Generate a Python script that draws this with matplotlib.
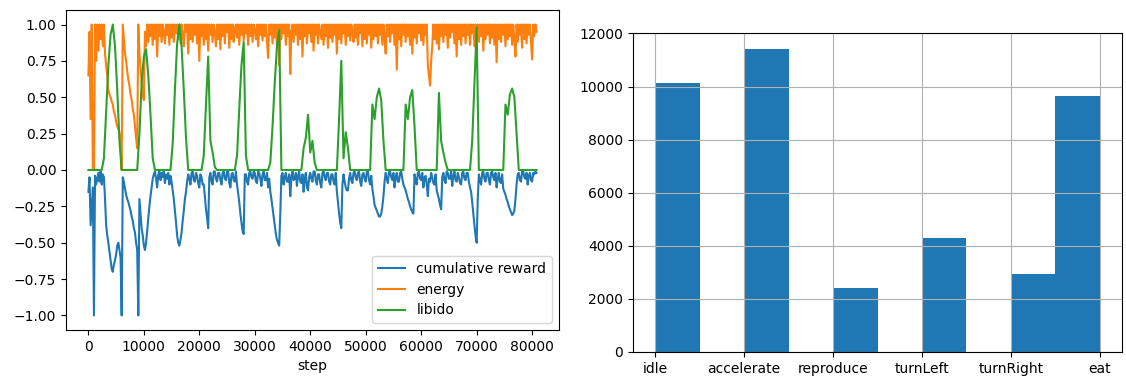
import numpy as np
import matplotlib
matplotlib.use("Agg")
import matplotlib.pyplot as plt

# reward and energy sampled every 200 steps, libido every 400 steps,
# values read off the reference
fine_steps = np.arange(0, 80801, 200)
steps = np.arange(0, 80801, 400)

reward = [
    -0.15, -0.05, -0.38, -0.25, -0.12, -1.0, -0.04, -0.1, -0.06, -0.02, -0.08, -0.01, -0.1, -0.03, -0.05, -0.2, -0.38, -0.45, -0.5, -0.56,
    -0.62, -0.68, -0.7, -0.65, -0.62, -0.58, -0.52, -0.5, -0.55, -0.6, -1.0, -0.05, -0.08, -0.13, -0.17, -0.2, -0.22, -0.25, -0.28, -0.32,
    -0.35, -0.4, -0.43, -0.5, -0.55, -1.0, -0.2, -0.3, -0.4, -0.45, -0.52, -0.55, -0.5, -0.42, -0.33, -0.25, -0.18, -0.12, -0.06, -0.03,
    -0.01, -0.06, -0.12, -0.03, -0.01, -0.07, -0.02, -0.05, -0.01, -0.09, -0.03, -0.06, -0.02, -0.1, -0.04, -0.08, -0.14, -0.2, -0.28, -0.36,
    -0.45, -0.5, -0.52, -0.48, -0.43, -0.35, -0.28, -0.2, -0.15, -0.08, -0.03, -0.06, -0.1, -0.02, -0.01, -0.07, -0.08, -0.02, -0.04, -0.09,
    -0.12, -0.03, -0.05, -0.1, -0.1, -0.18, -0.27, -0.33, -0.4, -0.05, -0.02, -0.08, -0.1, -0.01, -0.01, -0.06, -0.08, -0.02, -0.02, -0.07,
    -0.1, -0.02, -0.01, -0.06, -0.07, -0.01, -0.01, -0.09, -0.12, -0.03, -0.02, -0.07, -0.08, -0.01, -0.1, -0.16, -0.22, -0.3, -0.36, -0.42,
    -0.44, -0.03, -0.03, -0.08, -0.1, -0.02, -0.01, -0.05, -0.06, -0.01, -0.02, -0.08, -0.09, -0.01, -0.02, -0.06, -0.11, -0.03, -0.01, -0.07,
    -0.07, -0.02, -0.12, -0.06, -0.15, -0.2, -0.26, -0.32, -0.38, -0.44, -0.48, -0.5, -0.52, -0.3, -0.04, -0.02, -0.1, -0.05, -0.02, -0.08,
    -0.08, -0.03, -0.18, -0.05, -0.01, -0.07, -0.06, -0.02, -0.11, -0.04, -0.01, -0.08, -0.09, -0.03, -0.15, -0.06, -0.02, -0.12, -0.14, -0.05,
    -0.02, -0.06, -0.08, -0.01, -0.01, -0.07, -0.1, -0.03, -0.03, -0.09, -0.12, -0.02, -0.01, -0.05, -0.07, -0.02, -0.02, -0.08, -0.1, -0.03,
    -0.03, -0.08, -0.1, -0.02, -0.15, -0.22, -0.3, -0.36, -0.4, -0.1, -0.03, -0.08, -0.12, -0.14, -0.14, -0.06, -0.02, -0.07, -0.09, -0.02,
    -0.01, -0.05, -0.07, -0.02, -0.01, -0.08, -0.11, -0.03, -0.02, -0.06, -0.08, -0.01, -0.01, -0.07, -0.1, -0.04, -0.13, -0.18, -0.24, -0.26,
    -0.28, -0.3, -0.32, -0.32, -0.3, -0.25, -0.18, -0.08, -0.02, -0.06, -0.09, -0.01, -0.01, -0.05, -0.07, -0.02, -0.12, -0.05, -0.02, -0.08,
    -0.08, -0.02, -0.01, -0.06, -0.1, -0.12, -0.14, -0.17, -0.2, -0.22, -0.25, -0.27, -0.29, -0.3, -0.03, -0.07, -0.1, -0.02, -0.01, -0.06,
    -0.07, -0.02, -0.12, -0.05, -0.04, -0.1, -0.18, -0.06, -0.08, -0.02, -0.05, -0.09, -0.1, -0.03, -0.14, -0.17, -0.2, -0.24, -0.27, -0.05,
    -0.02, -0.07, -0.09, -0.01, -0.02, -0.06, -0.06, -0.01, -0.11, -0.04, -0.01, -0.07, -0.08, -0.02, -0.05, -0.09, -0.1, -0.02, -0.01, -0.06,
    -0.07, -0.02, -0.02, -0.08, -0.12, -0.15, -0.22, -0.3, -0.38, -0.45, -0.5, -0.2, -0.03, -0.07, -0.1, -0.02, -0.01, -0.06, -0.08, -0.02,
    -0.02, -0.07, -0.1, -0.02, -0.01, -0.05, -0.07, -0.02, -0.12, -0.06, -0.02, -0.08, -0.09, -0.03, -0.13, -0.15, -0.17, -0.2, -0.22, -0.25,
    -0.27, -0.29, -0.31, -0.3, -0.28, -0.2, -0.1, -0.03, -0.02, -0.07, -0.08, -0.01, -0.01, -0.05, -0.06, -0.02, -0.1, -0.04, -0.02, -0.07,
    -0.08, -0.02, -0.03, -0.01, -0.02,
]

energy = [
    0.65, 0.95, 0.35, 1.0, 0.0, 0.0, 1.0, 0.75, 1.0, 0.82, 1.0, 0.9, 1.0, 0.85, 1.0, 0.8, 0.72, 0.65, 0.55, 0.52,
    0.5, 0.47, 0.45, 0.4, 0.38, 0.33, 0.3, 0.28, 0.26, 0.2, 0.0, 1.0, 0.9, 0.8, 0.75, 0.68, 0.62, 0.58, 0.52, 0.48,
    0.42, 0.38, 0.3, 0.22, 0.15, 1.0, 0.8, 0.7, 0.6, 0.52, 0.48, 0.95, 0.85, 1.0, 0.88, 1.0, 0.92, 1.0, 0.86, 1.0,
    0.9, 1.0, 0.78, 1.0, 0.92, 1.0, 0.88, 1.0, 0.95, 0.87, 1.0, 0.93, 1.0, 0.86, 1.0, 0.91, 1.0, 0.88, 1.0, 0.94,
    1.0, 0.9, 1.0, 0.87, 1.0, 0.93, 0.85, 1.0, 0.95, 1.0, 0.8, 1.0, 0.9, 1.0, 0.88, 1.0, 0.93, 1.0, 0.87, 1.0,
    0.75, 1.0, 0.92, 1.0, 0.86, 1.0, 0.9, 1.0, 0.82, 1.0, 0.93, 1.0, 0.88, 1.0, 0.95, 0.85, 1.0, 0.9, 1.0, 0.83,
    1.0, 0.92, 1.0, 0.87, 1.0, 0.95, 1.0, 0.84, 1.0, 0.9, 1.0, 0.88, 0.97, 1.0, 0.91, 1.0, 0.86, 1.0, 0.93, 1.0,
    0.89, 1.0, 0.94, 1.0, 0.86, 1.0, 0.92, 1.0, 0.88, 1.0, 0.96, 0.9, 1.0, 0.85, 1.0, 0.93, 1.0, 0.89, 1.0, 0.92,
    1.0, 0.88, 0.77, 1.0, 0.93, 1.0, 0.87, 1.0, 0.91, 1.0, 0.85, 1.0, 0.72, 1.0, 0.9, 1.0, 0.94, 1.0, 0.86, 1.0,
    0.92, 1.0, 0.66, 0.95, 1.0, 0.88, 1.0, 0.93, 1.0, 0.86, 1.0, 0.9, 1.0, 0.78, 1.0, 0.92, 1.0, 0.87, 1.0, 0.94,
    1.0, 0.88, 1.0, 0.82, 1.0, 0.93, 1.0, 0.87, 1.0, 0.95, 0.9, 1.0, 0.86, 1.0, 0.92, 1.0, 0.84, 1.0, 0.91, 1.0,
    0.88, 1.0, 0.93, 1.0, 0.8, 1.0, 0.9, 1.0, 0.87, 1.0, 0.94, 1.0, 0.86, 1.0, 0.92, 1.0, 0.89, 1.0, 0.95, 0.88,
    1.0, 0.91, 1.0, 0.86, 1.0, 0.94, 1.0, 0.85, 1.0, 0.9, 1.0, 0.87, 1.0, 0.93, 1.0, 0.84, 1.0, 0.9, 1.0, 0.92,
    1.0, 0.87, 1.0, 0.93, 1.0, 0.86, 1.0, 0.91, 0.8, 1.0, 0.92, 1.0, 0.88, 1.0, 0.94, 1.0, 0.86, 1.0, 0.69, 1.0,
    0.9, 1.0, 0.85, 1.0, 0.93, 1.0, 0.88, 1.0, 0.92, 1.0, 0.86, 1.0, 0.8, 1.0, 0.91, 1.0, 0.87, 1.0, 0.94, 1.0,
    0.89, 1.0, 0.86, 1.0, 0.93, 1.0, 0.72, 0.65, 0.58, 0.75, 0.85, 1.0, 0.9, 1.0, 0.87, 1.0, 0.83, 1.0, 0.92, 1.0,
    0.88, 1.0, 0.93, 1.0, 0.84, 1.0, 0.91, 1.0, 0.95, 1.0, 0.87, 1.0, 0.78, 1.0, 0.9, 1.0, 0.86, 1.0, 0.92, 1.0,
    0.87, 1.0, 0.93, 1.0, 0.86, 1.0, 0.94, 1.0, 0.85, 1.0, 0.9, 1.0, 0.88, 1.0, 0.92, 1.0, 0.82, 1.0, 0.9, 1.0,
    0.93, 1.0, 0.87, 1.0, 0.91, 1.0, 0.86, 1.0, 0.74, 1.0, 0.9, 1.0, 0.88, 1.0, 0.93, 1.0, 0.85, 1.0, 0.9, 1.0,
    0.92, 1.0, 0.86, 1.0, 0.9, 0.78, 1.0, 0.88, 1.0, 0.93, 1.0, 0.84, 1.0, 0.9, 1.0, 0.87, 1.0, 0.93, 1.0, 0.88,
    0.76, 1.0, 0.92, 1.0, 0.95,
]

libido = [
    0, 0, 0, 0, 0, 0, 0, 0.08, 0.4, 0.72,
    0.93, 1.0, 0.85, 0.55, 0.2, 0, 0, 0, 0, 0,
    0, 0, 0, 0.25, 0.6, 0.78, 0.83, 0.65, 0.38, 0.08,
    0, 0, 0, 0, 0, 0, 0, 0, 0.18, 0.55,
    0.87, 1.0, 0.85, 0.55, 0.22, 0, 0, 0, 0, 0,
    0, 0, 0.1, 0.45, 0.78, 0.2, 0.12, 0.02, 0, 0,
    0, 0, 0, 0, 0, 0, 0, 0.1, 0.42, 0.72,
    0.88, 0.1, 0, 0, 0, 0, 0, 0, 0, 0,
    0, 0, 0.05, 0.3, 0.6, 0.85, 0.96, 0, 0, 0,
    0, 0, 0, 0, 0, 0, 0, 0.15, 0.22, 0.38,
    0.12, 0.2, 0.05, 0, 0, 0, 0, 0, 0, 0,
    0, 0, 0, 0.35, 0.75, 0.08, 0.26, 0.15, 0, 0,
    0, 0, 0, 0, 0, 0, 0, 0, 0.45, 0.35,
    0.5, 0.56, 0.48, 0.2, 0, 0, 0, 0, 0, 0,
    0, 0, 0, 0.45, 0.35, 0.5, 0.55, 0.3, 0, 0,
    0, 0, 0, 0, 0, 0, 0, 0, 0.53, 0.2,
    0.12, 0.05, 0, 0, 0, 0, 0, 0, 0, 0,
    0, 0, 0, 0.2, 0.6, 0.98, 0, 0, 0, 0,
    0, 0, 0, 0, 0, 0, 0, 0, 0.45, 0.38,
    0.52, 0.56, 0.5, 0.25, 0, 0, 0, 0, 0, 0,
    0, 0, 0,
]

actions = ["idle", "accelerate", "reproduce", "turnLeft", "turnRight", "eat"]
action_counts = [10150, 11420, 2425, 4310, 2925, 9650]

fig = plt.figure(figsize=(11.26, 3.78), dpi=100)

ax1 = fig.add_axes([0.0586, 0.127, 0.4378, 0.8466])
ax1.plot(fine_steps, reward, label="cumulative reward")
ax1.plot(fine_steps, energy, label="energy")
ax1.plot(steps, libido, label="libido")
ax1.set_xlabel("step")
ax1.legend(loc="lower right")

ax2 = fig.add_axes([0.5622, 0.0688, 0.4343, 0.844])
ax2.hist(np.arange(len(actions)), bins=10, range=(0, len(actions) - 1),
         weights=action_counts)
ax2.set_xticks(range(len(actions)))
ax2.set_xticklabels(actions)
ax2.set_ylim(0, 12020)
ax2.grid(True)

fig.savefig("out.png", dpi=100)
